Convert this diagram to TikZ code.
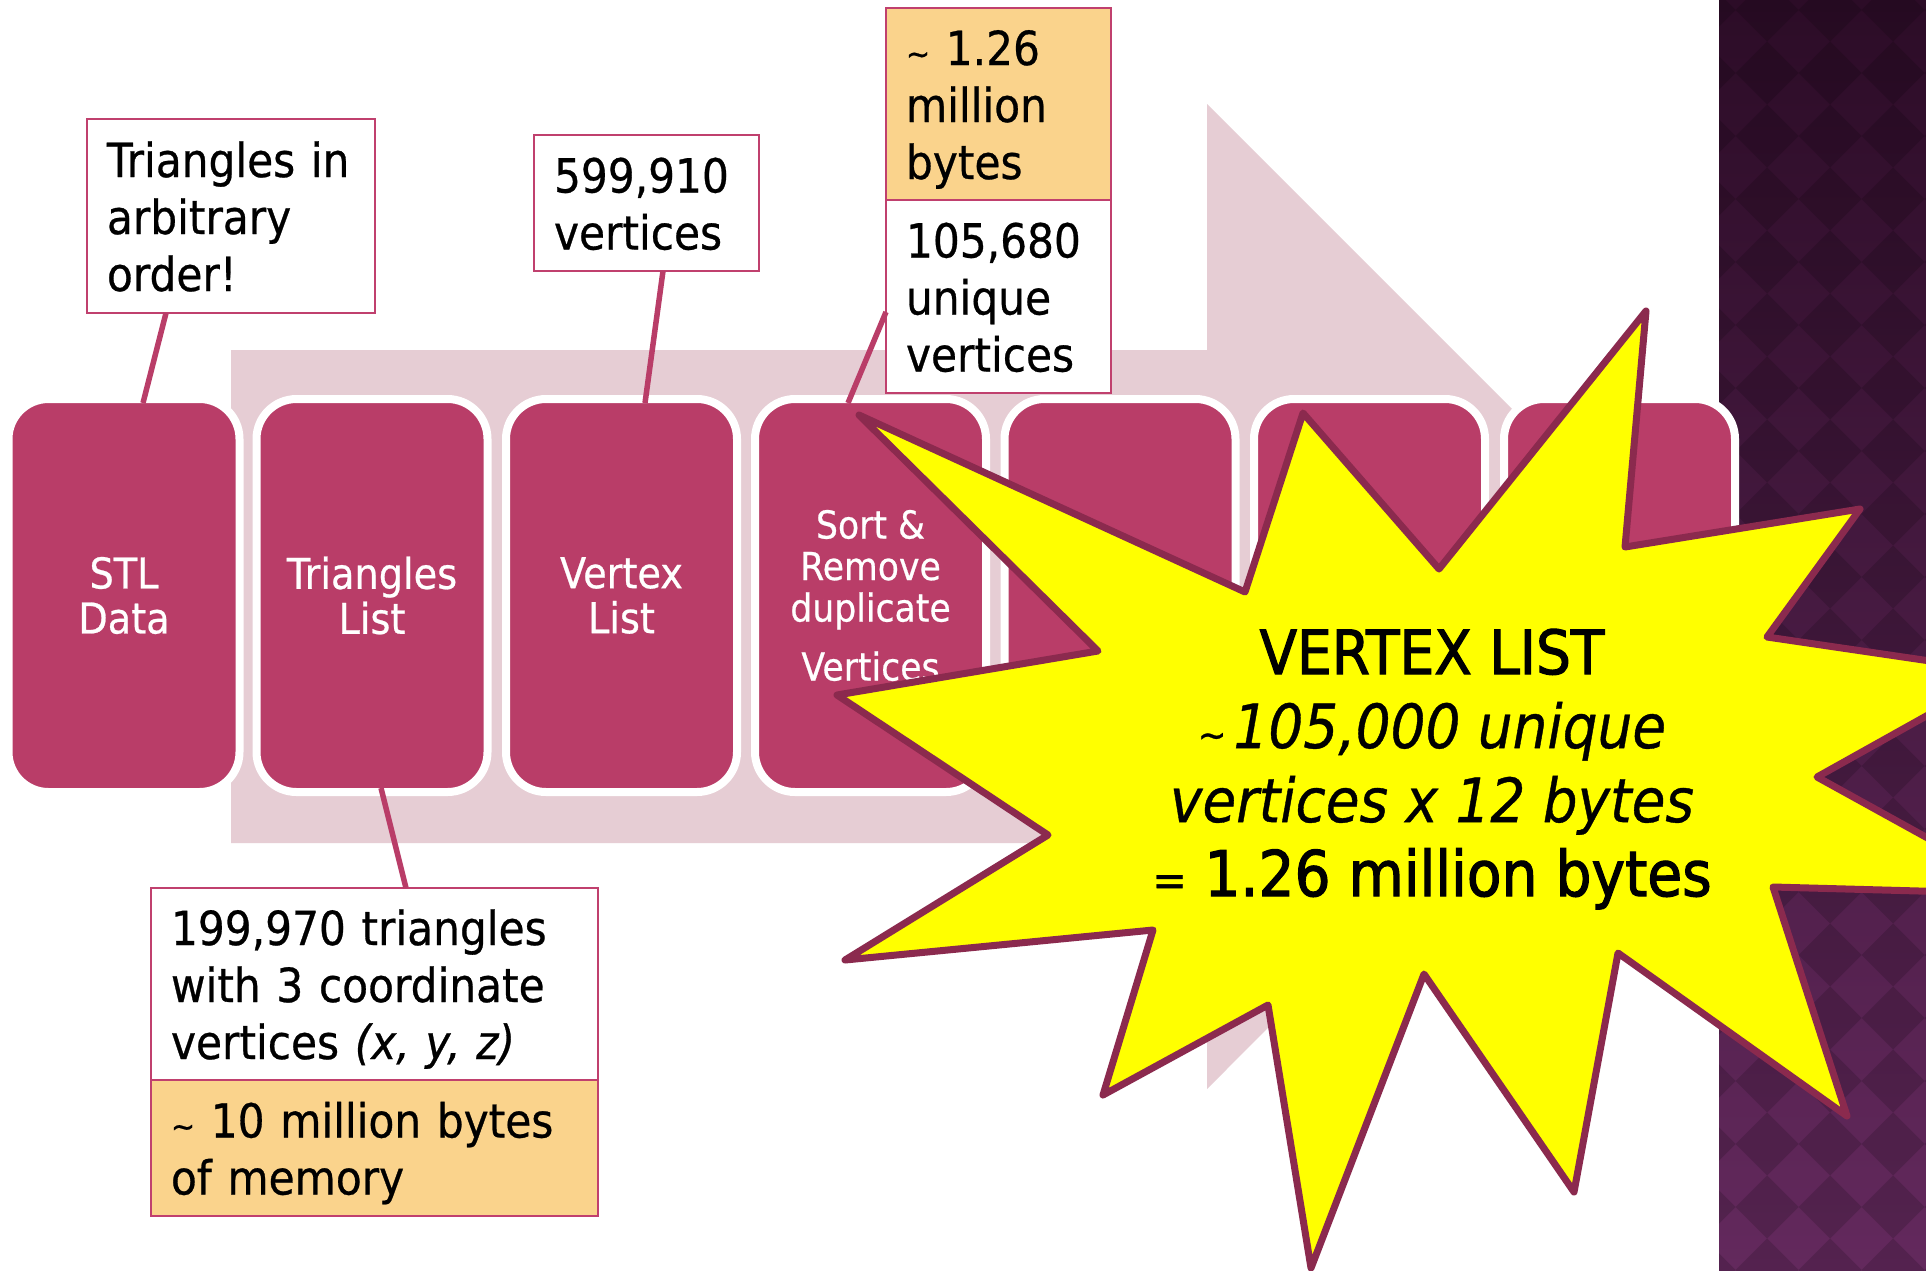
\documentclass[tikz,border=0pt]{standalone}
\usepackage{fontspec}
\setmainfont{DejaVu Sans}[FakeStretch=0.9, FakeBold=0.6]
\newfontfamily\headfont{DejaVu Sans}[FakeStretch=0.9, FakeBold=1.8]
\usetikzlibrary{calc}
\definecolor{boxmag}{HTML}{B93D68}
\definecolor{arrowpink}{HTML}{E6CDD4}
\definecolor{calloutline}{HTML}{C0406E}
\definecolor{memorange}{HTML}{FAD38C}
\definecolor{burstline}{HTML}{8B2A4E}
\definecolor{burstyellow}{HTML}{FFFF00}
\definecolor{paneltop}{HTML}{2C0C27}
\definecolor{panelbot}{HTML}{63295D}
\newcommand{\smalltilde}{{\fontsize{32}{32}\selectfont\char"7E}}
\begin{document}
\begin{tikzpicture}[x=1pt,y=-1pt,
  procbox/.style={rectangle, rounded corners=40pt, draw=white, line width=8pt, fill=boxmag,
    minimum width=231pt, minimum height=393pt, text=white, align=center, inner sep=0pt, outer sep=0pt,
    font=\fontsize{42.5}{45}\selectfont},
  callout/.style={rectangle, draw=calloutline, line width=2.5pt, fill=white, inner xsep=20pt,
    inner ysep=0pt, outer sep=0pt, align=left, font=\fontsize{47}{57}\selectfont,
    execute at begin node={\rule{0pt}{48pt}},
    execute at end node={\rule[-12pt]{0pt}{12pt}}},
  memo/.style={callout, fill=memorange},
  link/.style={draw=boxmag, line width=5.5pt},
  burst/.style={draw=burstline, fill=burstyellow, line width=7pt, line join=round},
]
% canvas
\fill[white] (0,0) rectangle (1926,1270);
\useasboundingbox (0,0) rectangle (1926,1270);

% purple patterned panel
\shade[top color=paneltop, bottom color=panelbot] (1719,0) rectangle (1926,1270);
\begin{scope}
  \clip (1719,0) rectangle (1926,1270);
  \foreach \i in {0,...,4} {
    \foreach \j in {-1,...,20} {
      \fill[black, opacity=0.15] ({1704+63*\i},{10+63*\j}) ++(-31.5,0) -- ++(31.5,-31.5) -- ++(31.5,31.5) -- ++(-31.5,31.5) -- cycle;
    }
  }
\end{scope}

% big background arrow
\fill[arrowpink] (231,350) -- (1207,350) -- (1207,104) -- (1699,596) -- (1207,1089) -- (1207,843) -- (231,843) -- cycle;

% callouts
\node[callout, text width=248pt, minimum width=288pt, minimum height=194pt] (cA) at (231,216)
  {Triangles in\\arbitrary\\order!};
\node[callout, text width=185pt, minimum width=225pt, minimum height=136pt] (cB) at (646.5,203)
  {599,910\\vertices};
\node[memo, text width=185pt, minimum width=225pt, minimum height=192pt] (cCo) at (998.5,104)
  {\smalltilde\ 1.26\\million\\bytes};
\node[callout, text width=185pt, minimum width=225pt, minimum height=193pt] (cCw) at (998.5,296.5)
  {105,680\\unique\\vertices};
\node[callout, text width=407pt, minimum width=447pt, minimum height=192pt] (cDw) at (374.5,984)
  {199,970 triangles\\with 3 coordinate\\vertices \textit{(x, y, z)}};
\node[memo, text width=407pt, minimum width=447pt, minimum height=136pt] (cDo) at (374.5,1148)
  {\smalltilde\ 10 million bytes\\of memory};

% process boxes
\node[procbox] (b1) at (124,595.5) {STL\\Data};
\node[procbox] (b2) at (372,595.5) {Triangles\\List};
\node[procbox] (b3) at (621.5,595.5) {Vertex\\List};
\node[procbox, font=\fontsize{38.5}{41.5}\selectfont] (b4) at (870.5,595.5) {Sort \&\\Remove\\duplicate\\[17.5pt]Vertices};
\node[procbox] (b5) at (1120,595.5) {};
\node[procbox] (b6) at (1369.5,595.5) {};
\node[procbox] (b7) at (1619.5,595.5) {};

% connectors
\draw[link] ($(cA.south west)+(79,0)$) -- ($(b1.north)+(19,4)$);
\draw[link] ($(cB.south west)+(129,0)$) -- ($(b3.north)+(23.5,4)$);
\draw[link] ($(cCw.north west)+(0,112)$) -- ($(b4.north)+(-22.5,4)$);
\draw[link] ($(b2.south)+(9,-4)$) -- ($(cDw.north west)+(255,0)$);

% starburst
\begin{scope}
  \clip (0,0) rectangle (1926,1270);
  \draw[burst] (859,415) -- (1245,592) -- (1303,413) -- (1439,569) -- (1646,311) -- (1625,547)
    -- (1860,509) -- (1767,637) -- (2005,672) -- (1817,777) -- (2029,894) -- (1773,887)
    -- (1847,1116) -- (1618,953) -- (1574,1192) -- (1424,974) -- (1311,1268) -- (1268,1005)
    -- (1103,1095) -- (1153,930) -- (845,960) -- (1048,835) -- (837,695) -- (1098,651) -- cycle;
\end{scope}
\node[font=\fontsize{61}{74}\selectfont, align=center, inner sep=0pt] (bursttext) at (1432,769)
  {{\headfont VERTEX LIST}\\
   {\fontsize{38}{38}\selectfont\char"7E}\hspace{7pt}\textit{105,000 unique}\\
   \textit{vertices x 12 bytes}\\
   {\fontsize{46}{46}\selectfont =}\ {\headfont\fontsize{63}{74}\selectfont 1.26 million bytes}};
\end{tikzpicture}
\end{document}
